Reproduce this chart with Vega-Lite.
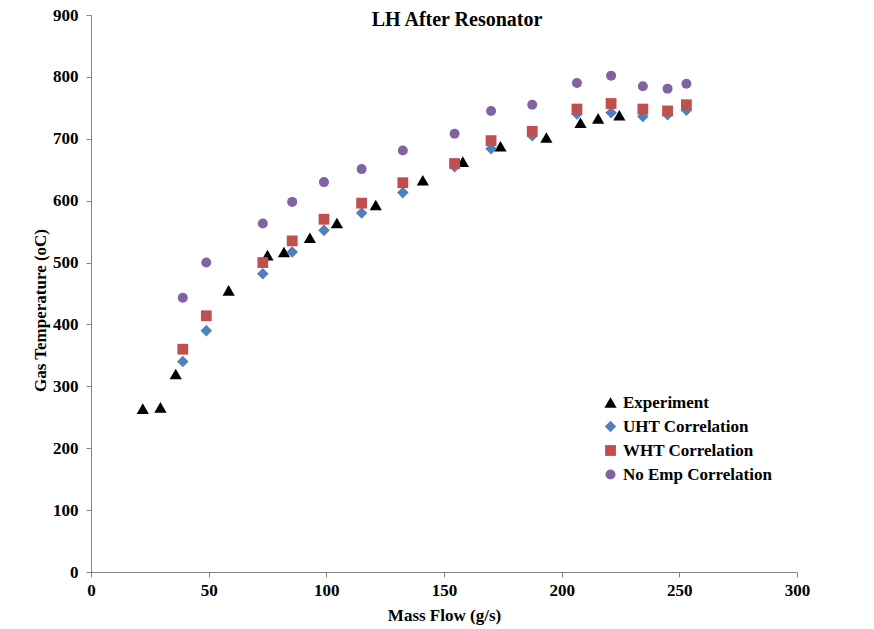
{
  "$schema": "https://vega.github.io/schema/vega-lite/v6.json",
  "width": 706,
  "height": 557,
  "autosize": {"type": "none"},
  "padding": {"left": 91, "top": 15, "right": 77, "bottom": 57},
  "background": "white",
  "title": {"text": "LH After Resonator", "font": "Liberation Serif", "fontSize": 20, "fontWeight": "bold", "color": "black", "anchor": "middle", "frame": "group", "baseline": "alphabetic", "offset": 0, "dx": 13, "dy": 40},
  "config": {"view": {"stroke": null}, "font": "Liberation Serif"},
  "data": {"values": [
    {"series": "Experiment", "flow": 22, "temp": 264},
    {"series": "Experiment", "flow": 29.5, "temp": 266},
    {"series": "Experiment", "flow": 36, "temp": 320},
    {"series": "Experiment", "flow": 58.5, "temp": 455},
    {"series": "Experiment", "flow": 75, "temp": 512},
    {"series": "Experiment", "flow": 82, "temp": 517},
    {"series": "Experiment", "flow": 93, "temp": 540},
    {"series": "Experiment", "flow": 104.5, "temp": 564},
    {"series": "Experiment", "flow": 121, "temp": 593},
    {"series": "Experiment", "flow": 141, "temp": 633},
    {"series": "Experiment", "flow": 158, "temp": 663},
    {"series": "Experiment", "flow": 174, "temp": 688},
    {"series": "Experiment", "flow": 193.5, "temp": 702},
    {"series": "Experiment", "flow": 208, "temp": 726},
    {"series": "Experiment", "flow": 215.5, "temp": 733},
    {"series": "Experiment", "flow": 224.5, "temp": 738},
    {"series": "UHT Correlation", "flow": 39, "temp": 340},
    {"series": "UHT Correlation", "flow": 49, "temp": 390},
    {"series": "UHT Correlation", "flow": 73, "temp": 482},
    {"series": "UHT Correlation", "flow": 85.5, "temp": 517},
    {"series": "UHT Correlation", "flow": 99, "temp": 552},
    {"series": "UHT Correlation", "flow": 115, "temp": 580},
    {"series": "UHT Correlation", "flow": 132.5, "temp": 613},
    {"series": "UHT Correlation", "flow": 154.5, "temp": 655},
    {"series": "UHT Correlation", "flow": 170, "temp": 684},
    {"series": "UHT Correlation", "flow": 187.5, "temp": 705},
    {"series": "UHT Correlation", "flow": 206.5, "temp": 740},
    {"series": "UHT Correlation", "flow": 221, "temp": 742},
    {"series": "UHT Correlation", "flow": 234.5, "temp": 736},
    {"series": "UHT Correlation", "flow": 245, "temp": 739},
    {"series": "UHT Correlation", "flow": 253, "temp": 746},
    {"series": "WHT Correlation", "flow": 39, "temp": 360},
    {"series": "WHT Correlation", "flow": 49, "temp": 414},
    {"series": "WHT Correlation", "flow": 73, "temp": 500},
    {"series": "WHT Correlation", "flow": 85.5, "temp": 535},
    {"series": "WHT Correlation", "flow": 99, "temp": 570},
    {"series": "WHT Correlation", "flow": 115, "temp": 596},
    {"series": "WHT Correlation", "flow": 132.5, "temp": 629},
    {"series": "WHT Correlation", "flow": 154.5, "temp": 660},
    {"series": "WHT Correlation", "flow": 170, "temp": 697},
    {"series": "WHT Correlation", "flow": 187.5, "temp": 712},
    {"series": "WHT Correlation", "flow": 206.5, "temp": 748},
    {"series": "WHT Correlation", "flow": 221, "temp": 757},
    {"series": "WHT Correlation", "flow": 234.5, "temp": 748},
    {"series": "WHT Correlation", "flow": 245, "temp": 745},
    {"series": "WHT Correlation", "flow": 253, "temp": 755},
    {"series": "No Emp Correlation", "flow": 39, "temp": 443},
    {"series": "No Emp Correlation", "flow": 49, "temp": 500},
    {"series": "No Emp Correlation", "flow": 73, "temp": 563},
    {"series": "No Emp Correlation", "flow": 85.5, "temp": 598},
    {"series": "No Emp Correlation", "flow": 99, "temp": 630},
    {"series": "No Emp Correlation", "flow": 115, "temp": 651},
    {"series": "No Emp Correlation", "flow": 132.5, "temp": 681},
    {"series": "No Emp Correlation", "flow": 154.5, "temp": 708},
    {"series": "No Emp Correlation", "flow": 170, "temp": 745},
    {"series": "No Emp Correlation", "flow": 187.5, "temp": 755},
    {"series": "No Emp Correlation", "flow": 206.5, "temp": 790},
    {"series": "No Emp Correlation", "flow": 221, "temp": 802},
    {"series": "No Emp Correlation", "flow": 234.5, "temp": 785},
    {"series": "No Emp Correlation", "flow": 245, "temp": 781},
    {"series": "No Emp Correlation", "flow": 253, "temp": 789}
  ]},
  "mark": {"type": "point", "filled": true, "opacity": 1, "strokeWidth": 0},
  "encoding": {
    "x": {
      "field": "flow", "type": "quantitative",
      "scale": {"domain": [0, 300], "nice": false, "zero": true},
      "axis": {
        "title": "Mass Flow (g/s)", "values": [0, 50, 100, 150, 200, 250, 300], "grid": false, "labelFlush": false,
        "domainColor": "#868686", "tickColor": "#868686", "tickSize": 5,
        "labelFont": "Liberation Serif", "labelFontSize": 17, "labelFontWeight": "bold", "labelColor": "black", "labelPadding": 5,
        "titleFont": "Liberation Serif", "titleFontSize": 17, "titleFontWeight": "bold", "titleColor": "black", "titleBaseline": "middle", "titleY": 43
      }
    },
    "y": {
      "field": "temp", "type": "quantitative",
      "scale": {"domain": [0, 900], "nice": false},
      "axis": {
        "title": "Gas Temperature (oC)", "values": [0, 100, 200, 300, 400, 500, 600, 700, 800, 900], "grid": false, "labelFlush": false,
        "domainColor": "#868686", "tickColor": "#868686", "tickSize": 5,
        "labelFont": "Liberation Serif", "labelFontSize": 17, "labelFontWeight": "bold", "labelColor": "black", "labelPadding": 8,
        "titleFont": "Liberation Serif", "titleFontSize": 17, "titleFontWeight": "bold", "titleColor": "black", "titleBaseline": "middle", "titleX": -51, "titleY": 295
      }
    },
    "shape": {
      "field": "series", "type": "nominal",
      "scale": {"domain": ["Experiment", "UHT Correlation", "WHT Correlation", "No Emp Correlation"], "range": ["triangle-up", "diamond", "square", "circle"]},
      "legend": {"orient": "none", "legendX": 511, "legendY": 379, "title": null, "labelFont": "Liberation Serif", "labelFontSize": 17, "labelFontWeight": "bold", "labelColor": "black", "rowPadding": 6, "labelOffset": 4}
    },
    "color": {
      "field": "series", "type": "nominal",
      "scale": {"domain": ["Experiment", "UHT Correlation", "WHT Correlation", "No Emp Correlation"], "range": ["#000000", "#4F81BD", "#C0504D", "#8064A2"]},
      "legend": {"orient": "none", "legendX": 511, "legendY": 379, "title": null, "labelFont": "Liberation Serif", "labelFontSize": 17, "labelFontWeight": "bold", "labelColor": "black", "rowPadding": 6, "labelOffset": 4}
    },
    "size": {
      "field": "series", "type": "nominal",
      "scale": {"domain": ["Experiment", "UHT Correlation", "WHT Correlation", "No Emp Correlation"], "range": [150, 100, 144, 144]},
      "legend": {"orient": "none", "legendX": 511, "legendY": 379, "title": null, "labelFont": "Liberation Serif", "labelFontSize": 17, "labelFontWeight": "bold", "labelColor": "black", "rowPadding": 6, "labelOffset": 4}
    }
  }
}
